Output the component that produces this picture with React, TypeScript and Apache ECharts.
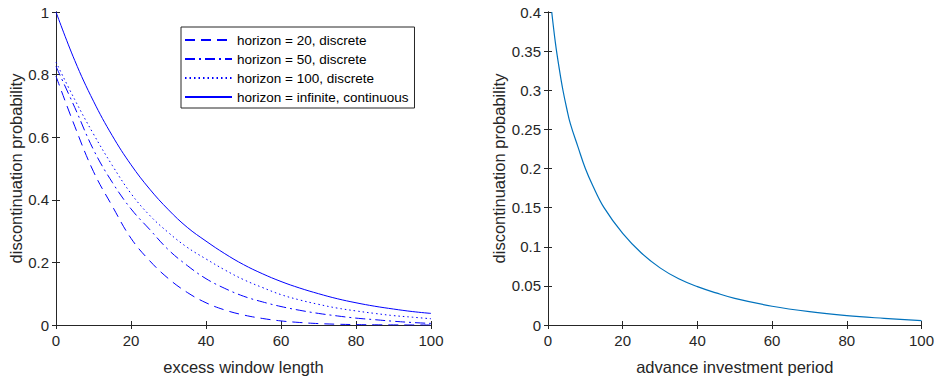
import React, { useEffect, useRef } from "react";
import * as echarts from "echarts";

const windowLength = [0, 5, 10, 15, 20, 25, 30, 35, 40, 45, 50, 55, 60, 65, 70, 75, 80, 85, 90, 95, 100];
const h20 = [0.795, 0.635, 0.49, 0.38, 0.277, 0.205, 0.148, 0.104, 0.071, 0.048, 0.032, 0.021, 0.013, 0.008, 0.0045, 0.0025, 0.0013, 0.0006, 0.0003, 0.0001, 0];
const h50 = [0.826, 0.695, 0.56, 0.456, 0.371, 0.305, 0.24, 0.19, 0.148, 0.117, 0.092, 0.074, 0.059, 0.047, 0.037, 0.029, 0.022, 0.017, 0.012, 0.008, 0.005];
const h100 = [0.84, 0.72, 0.61, 0.51, 0.42, 0.35, 0.295, 0.248, 0.211, 0.176, 0.145, 0.12, 0.097, 0.08, 0.066, 0.054, 0.045, 0.037, 0.03, 0.025, 0.02];
const hInf = [1.0, 0.845, 0.715, 0.605, 0.512, 0.434, 0.368, 0.312, 0.268, 0.228, 0.193, 0.164, 0.139, 0.118, 0.1, 0.084, 0.071, 0.06, 0.051, 0.043, 0.037];

const advPeriod = [1, 2, 3, 4, 5, 6, 8, 10, 12, 15, 20, 25, 30, 35, 40, 45, 50, 60, 70, 80, 90, 100];
const advProb = [0.4, 0.36, 0.328, 0.3, 0.277, 0.257, 0.228, 0.2, 0.178, 0.15, 0.117, 0.092, 0.073, 0.059, 0.049, 0.041, 0.034, 0.024, 0.017, 0.012, 0.0085, 0.0055];

const seriesNames = [
  "horizon = 20, discrete",
  "horizon = 50, discrete",
  "horizon = 100, discrete",
  "horizon = infinite, continuous",
];

const FONT = "'Liberation Sans', Arial, Helvetica, sans-serif";
const AX = "#262626";

function zip(xs: number[], ys: number[]) {
  return xs.map((x, i) => [x, ys[i]]);
}

export default function App() {
  const ref = useRef<HTMLDivElement>(null);
  useEffect(() => {
    if (!ref.current) return;
    const chart = echarts.init(ref.current, null, { renderer: "svg" });
    const axisLine = { show: true, lineStyle: { color: AX, width: 1 } };
    const tick = { show: true, inside: true, length: 4, lineStyle: { color: AX } };
    const label = { color: AX, fontFamily: FONT, fontSize: 15 };
    const nameStyle = { color: AX, fontFamily: FONT, fontSize: 16.5 };
    const mkX = (grid: number, name: string, primary: boolean) => ({
      type: "value",
      gridIndex: grid,
      position: primary ? "bottom" : "top",
      min: 0,
      max: 100,
      interval: 20,
      name: primary ? name : "",
      nameLocation: "middle",
      nameGap: 33,
      nameTextStyle: nameStyle,
      axisLine,
      axisTick: tick,
      axisLabel: { ...label, show: primary, margin: 8 },
      splitLine: { show: false },
    });
    const mkY = (grid: number, max: number, interval: number, primary: boolean, gap: number) => ({
      type: "value",
      gridIndex: grid,
      position: primary ? "left" : "right",
      min: 0,
      max,
      interval,
      name: primary ? "discontinuation probability" : "",
      nameLocation: "middle",
      nameGap: gap,
      nameTextStyle: nameStyle,
      axisLine,
      axisTick: tick,
      axisLabel: {
        ...label,
        show: primary,
        margin: 7,
        formatter: (v: number) => String(+v.toFixed(2)),
      },
      splitLine: { show: false },
    });
    const dashTypes: any[] = [[10, 6], [10, 4, 2, 4], [1.5, 3], "solid"];
    const leftData = [h20, h50, h100, hInf];
    chart.setOption({
      animation: false,
      backgroundColor: "#fff",
      grid: [
        { left: 56, top: 12, width: 375, height: 315 },
        { left: 548, top: 12, width: 375, height: 315 },
      ],
      xAxis: [
        mkX(0, "excess window length", true),
        mkX(0, "", false),
        mkX(1, "advance investment period", true),
        mkX(1, "", false),
      ],
      yAxis: [
        mkY(0, 1, 0.2, true, 32),
        mkY(0, 1, 0.2, false, 32),
        mkY(1, 0.4, 0.05, true, 40),
        mkY(1, 0.4, 0.05, false, 40),
      ],
      legend: {
        data: seriesNames,
        orient: "vertical",
        left: 181,
        top: 27,
        padding: [6, 6, 4, 3],
        itemWidth: 47,
        itemHeight: 14,
        itemGap: 5,
        backgroundColor: "#fff",
        borderColor: AX,
        borderWidth: 1,
        borderRadius: 0,
        itemStyle: { color: "rgba(0,0,0,0)", borderColor: "rgba(0,0,0,0)", borderWidth: 0, opacity: 0 },
        textStyle: { color: "#000", fontFamily: FONT, fontSize: 13.5, lineHeight: 14 },
      },
      series: [
        ...leftData.map((d, i) => ({
          name: seriesNames[i],
          type: "line",
          xAxisIndex: 0,
          yAxisIndex: 0,
          data: zip(windowLength, d),
          showSymbol: false,
          symbol: "none",
          smooth: 0.4,
          lineStyle: { color: "#0000ff", width: 1, type: dashTypes[i] },
          itemStyle: { color: "#0000ff" },
        })),
        {
          name: "advance",
          type: "line",
          xAxisIndex: 2,
          yAxisIndex: 2,
          data: zip(advPeriod, advProb),
          showSymbol: false,
          symbol: "none",
          smooth: 0.4,
          lineStyle: { color: "#0072bd", width: 1.2 },
          itemStyle: { color: "#0072bd" },
        },
      ],
    });
    return () => chart.dispose();
  }, []);
  return (
    <div
      ref={ref}
      style={{ position: "fixed", left: 0, top: 0, width: 937, height: 380, background: "#fff" }}
    />
  );
}
